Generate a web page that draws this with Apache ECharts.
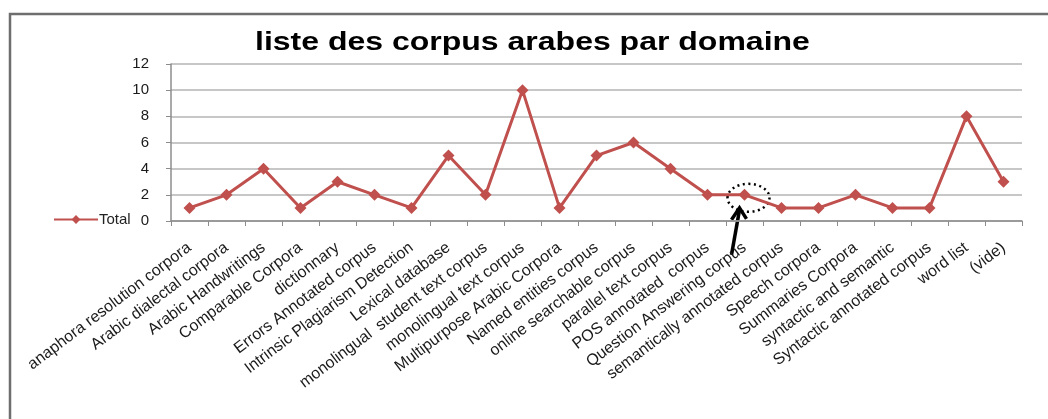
<!DOCTYPE html>
<html>
<head>
<meta charset="utf-8">
<script src="https://cdn.jsdelivr.net/npm/echarts@6/dist/echarts.min.js"></script>
<style>
  html, body { margin: 0; padding: 0; background: #fff; }
  #main { width: 1048px; height: 419px; }
</style>
</head>
<body>
<div id="main"></div>
<script>
// categories and values
var categories = [
  'anaphora resolution corpora', 'Arabic dialectal corpora', 'Arabic Handwritings',
  'Comparable Corpora', 'dictionnary', 'Errors Annotated corpus',
  'Intrinsic Plagiarism Detection', 'Lexical database', 'monolingual  student text corpus',
  'monolingual text corpus', 'Multipurpose Arabic Corpora', 'Named entities corpus',
  'online searchable corpus', 'parallel text corpus', 'POS annotated  corpus',
  'Question Answering corpus', 'semantically annotated corpus', 'Speech corpora',
  'Summaries Corpora', 'syntactic and semantic', 'Syntactic annotated corpus',
  'word list', '(vide)'
];
var total = [1, 2, 4, 1, 3, 2, 1, 5, 2, 10, 1, 5, 6, 4, 2, 2, 1, 1, 2, 1, 1, 8, 3];
var yTicks = [0, 2, 4, 6, 8, 10, 12];
var seriesName = 'Total';
var titleText = 'liste des corpus arabes par domaine';
var highlighted = 'Question Answering corpus';

var myChart = echarts.init(document.getElementById('main'));

// cadre + titre (le titre est etire horizontalement comme dans l'original)
var frame = {
  type: 'polyline',
  shape: { points: [[10, 419], [10, 14], [1048, 14]] },
  style: { stroke: '#6e6e6e', lineWidth: 2.5, fill: null },
  silent: true
};
var title = {
  type: 'text',
  x: 255,
  y: 31,
  scaleX: 1.28,
  style: {
    text: titleText,
    font: 'bold 25px "Liberation Sans"',
    fill: '#000'
  },
  silent: true
};

var option = {
  animation: false,
  backgroundColor: '#fff',
  legend: {
    left: 48,
    top: 207,
    itemWidth: 44,
    itemHeight: 11,
    itemGap: 2,
    data: [seriesName],
    textStyle: { fontFamily: 'Liberation Sans', fontSize: 15, color: '#222', padding: [0, 0, 0, -4] }
  },
  grid: { left: 171, right: 26, top: 64, bottom: 198 },
  xAxis: {
    type: 'category',
    data: categories,
    boundaryGap: true,
    axisLine: { lineStyle: { color: '#8c8c8c', width: 1.5 } },
    axisTick: { show: true, length: 5, lineStyle: { color: '#8c8c8c' } },
    axisLabel: {
      interval: 0,
      rotate: 37,
      margin: 25,
      fontFamily: 'Liberation Sans',
      fontSize: 16,
      color: '#1a1a1a'
    }
  },
  yAxis: {
    type: 'value',
    min: yTicks[0],
    max: yTicks[yTicks.length - 1],
    interval: 2,
    axisLine: { show: true, lineStyle: { color: '#8c8c8c', width: 1.5 } },
    axisTick: { show: true, length: 5, lineStyle: { color: '#8c8c8c' } },
    axisLabel: { fontFamily: 'Liberation Sans', fontSize: 15, color: '#1a1a1a', margin: 22 },
    splitLine: { lineStyle: { color: '#b4b4b4', width: 1.5 } }
  },
  series: [{
    name: seriesName,
    type: 'line',
    data: total,
    symbol: 'diamond',
    symbolSize: 12,
    lineStyle: { color: '#C0504D', width: 3 },
    itemStyle: { color: '#C0504D' }
  }],
  graphic: [frame, title]
};
myChart.setOption(option);

// ellipse pointillee + fleche vers le point mis en evidence
var idx = categories.indexOf(highlighted);
var p = myChart.convertToPixel({ seriesIndex: 0 }, [idx, total[idx]]);
var tip = [p[0] - 5, p[1] + 13];
myChart.setOption({
  graphic: [frame, title, {
    type: 'ellipse',
    shape: { cx: p[0] + 4, cy: p[1] + 3, rx: 21, ry: 14 },
    style: { stroke: '#000', fill: null, lineWidth: 2.5, lineDash: [2, 3.5] },
    silent: true
  }, {
    type: 'line',
    shape: { x1: p[0] - 13, y1: p[1] + 60, x2: tip[0], y2: tip[1] + 2 },
    style: { stroke: '#000', lineWidth: 3.5 },
    silent: true
  }, {
    type: 'polyline',
    shape: { points: [[tip[0] - 8, tip[1] + 12], tip, [tip[0] + 7, tip[1] + 11]] },
    style: { stroke: '#000', lineWidth: 3.5, fill: null },
    silent: true
  }]
});
</script>
</body>
</html>
